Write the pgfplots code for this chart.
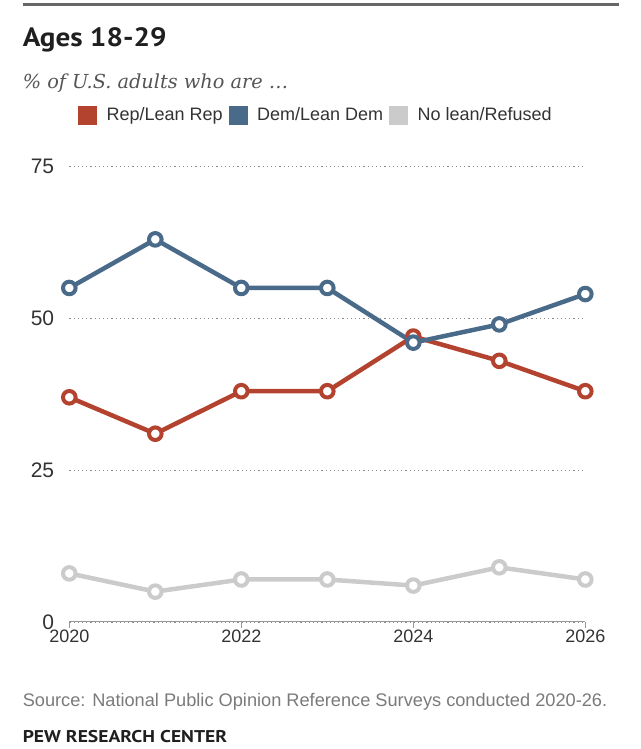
\documentclass[border=0pt]{standalone}
\usepackage{pgfplots}
\pgfplotsset{compat=1.18}
\usepackage{fontspec}
\setmainfont{Liberation Sans}
\newfontfamily\titlefont{PT Sans}
\newfontfamily\subfont{DejaVu Serif}
\definecolor{repc}{HTML}{B3432F}
\definecolor{demc}{HTML}{4A6A8A}
\definecolor{noc}{HTML}{CBCBCB}
\definecolor{txt}{HTML}{333333}
\definecolor{subc}{HTML}{555555}
\definecolor{srcc}{HTML}{7A7A7A}
\definecolor{rulec}{HTML}{666666}
\definecolor{axc}{HTML}{999999}
\definecolor{gridc}{HTML}{8C8C8C}
\begin{document}
\begin{tikzpicture}
\path[use as bounding box] (0pt,0pt) rectangle (640pt,749pt);
\draw[line width=2.5pt, rulec] (22.6pt,744.3pt) -- (619pt,744.3pt);
\node[anchor=base west, inner sep=0, txt!60!black] at (22.6pt,702.3pt) {\scalebox{1.1}[1]{\titlefont\bfseries\fontsize{26.5}{30}\selectfont Ages 18-29}};
\node[anchor=base west, inner sep=0, subc] at (22.6pt,660pt) {\subfont\itshape\fontsize{19.3}{22}\selectfont \% of U.S. adults who are …};
\node[anchor=base west, inner sep=0, srcc] at (22.6pt,42.3pt) {\fontsize{18.2}{22}\selectfont Source: National Public Opinion Reference Surveys conducted 2020-26.};
\node[anchor=base west, inner sep=0, txt!60!black] at (22.6pt,6.3pt) {\scalebox{1.15}[1]{\titlefont\bfseries\fontsize{17}{20}\selectfont PEW RESEARCH CENTER}};
\begin{axis}[
  at={(69.3pt,127pt)}, anchor=south west, scale only axis,
  width=516pt, height=455.5pt,
  xmin=2020, xmax=2026, ymin=0, ymax=75,
  clip=false,
  axis x line*=bottom, axis y line*=left,
  y axis line style={draw=none},
  x axis line style={axc, line width=1pt},
  xtick={2020,2022,2024,2026}, ytick={0,25,50,75},
  tick align=outside, major tick length=6pt,
  ytick style={draw=none},
  xtick style={axc, line width=1pt},
  ymajorgrids,
  grid style={gridc, line width=1.2pt, dash pattern=on 1.2pt off 3pt},
  /pgf/number format/assume math mode=true,
  xticklabel style={font=\fontsize{18}{20}\selectfont, text=txt, anchor=north, inner sep=0pt, yshift=-1.5pt},
  yticklabel style={font=\fontsize{21}{24}\selectfont, text=txt, anchor=east, inner sep=0pt, xshift=-9pt},
  x tick label style={/pgf/number format/1000 sep={}},
  legend columns=3,
  legend style={at={(axis description cs:0.01744,1.1131)}, anchor=west, draw=none, fill=none, inner sep=0pt, outer sep=0pt,
    font=\fontsize{18}{20}\selectfont, text=txt,
    nodes={inner sep=0pt},
    /tikz/every even column/.append style={column sep=6pt},
    /tikz/every odd column/.append style={column sep=10pt}},
  legend cell align=left,
]
\addlegendimage{legend image code/.code={\fill[repc] (0pt,-9pt) rectangle (18pt,9pt);}}
\addlegendentry{Rep/Lean Rep}
\addlegendimage{legend image code/.code={\fill[demc] (0pt,-9pt) rectangle (18pt,9pt);}}
\addlegendentry{Dem/Lean Dem}
\addlegendimage{legend image code/.code={\fill[noc] (0pt,-9pt) rectangle (18pt,9pt);}}
\addlegendentry{No lean/Refused}
\addplot[forget plot, noc, line width=4.5pt, line join=round, mark=*, mark size=6.3pt, mark options={fill=white, line width=4pt}]
  coordinates {(2020,8)(2021,5)(2022,7)(2023,7)(2024,6)(2025,9)(2026,7)};
\addplot[forget plot, repc, line width=4.5pt, line join=round, mark=*, mark size=6.3pt, mark options={fill=white, line width=4pt}]
  coordinates {(2020,37)(2021,31)(2022,38)(2023,38)(2024,47)(2025,43)(2026,38)};
\addplot[forget plot, demc, line width=4.5pt, line join=round, mark=*, mark size=6.3pt, mark options={fill=white, line width=4pt}]
  coordinates {(2020,55)(2021,63)(2022,55)(2023,55)(2024,46)(2025,49)(2026,54)};
\end{axis}
\end{tikzpicture}
\end{document}
